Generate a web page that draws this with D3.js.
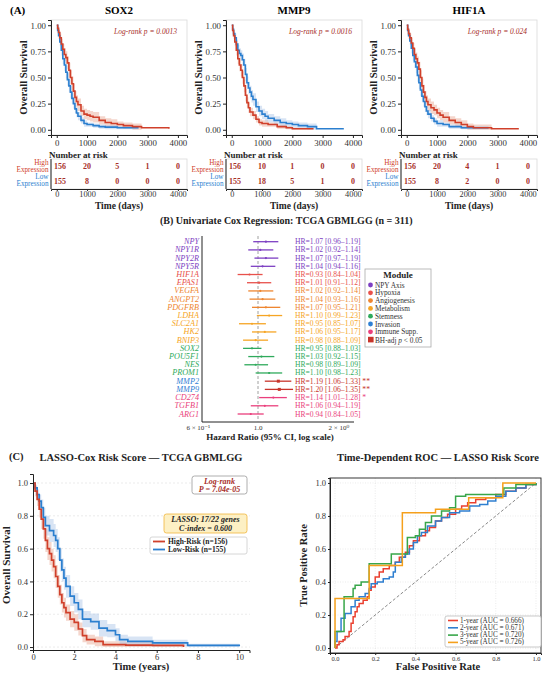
<!DOCTYPE html>
<html>
<head>
<meta charset="utf-8">
<script src="https://cdn.jsdelivr.net/npm/d3@7"></script>
<style>
  body { margin: 0; background: #fff; }
  text { font-family: "Liberation Serif", "DejaVu Serif", serif; }
</style>
</head>
<body>
<svg id="chart" width="550" height="678"></svg>
<script>
// ---------- data: panel A (Kaplan-Meier by gene, days) ----------
// each point: [time, survival, half-width of CI band]
const sox2High = [[0,1,0],[30,0.97,0.02],[60,0.93,0.03],[100,0.88,0.04],[150,0.82,0.05],[200,0.77,0.05],[250,0.72,0.06],[300,0.69,0.06],[350,0.64,0.06],[400,0.57,0.07],[450,0.5,0.07],[500,0.44,0.07],[550,0.37,0.07],[600,0.31,0.06],[650,0.27,0.06],[700,0.24,0.06],[800,0.18,0.05],[900,0.15,0.05],[1000,0.14,0.05],[1100,0.13,0.05],[1200,0.12,0.05],[1400,0.09,0.04],[1600,0.07,0.04],[1800,0.06,0.04],[2000,0.05,0.03],[2200,0.04,0.03],[2500,0.03,0.03],[2800,0.02,0],[3700,0.01,0]];
const sox2Low = [[0,1,0],[30,0.95,0.02],[60,0.9,0.03],[100,0.84,0.04],[150,0.76,0.05],[200,0.68,0.05],[250,0.62,0.06],[300,0.55,0.06],[350,0.48,0.06],[400,0.42,0.06],[450,0.36,0.06],[500,0.3,0.05],[550,0.25,0.05],[600,0.2,0.04],[650,0.16,0.04],[700,0.13,0.04],[800,0.09,0.03],[900,0.06,0.03],[1000,0.05,0.02],[1200,0.04,0.02],[1400,0.03,0.02],[1600,0.025,0.02],[2000,0.02,0.015],[2700,0.02,0]];
const mmp9High = [[0,1,0],[30,0.95,0.02],[60,0.9,0.03],[100,0.84,0.04],[150,0.76,0.05],[200,0.68,0.05],[250,0.62,0.06],[300,0.57,0.06],[350,0.5,0.06],[400,0.42,0.06],[450,0.33,0.06],[500,0.26,0.05],[550,0.21,0.05],[600,0.17,0.04],[700,0.14,0.04],[800,0.1,0.03],[900,0.07,0.03],[1000,0.06,0.03],[1200,0.05,0.02],[1500,0.03,0.02],[1800,0.02,0.015],[2000,0.01,0.01],[2700,0.01,0]];
const mmp9Low = [[0,1,0],[30,0.96,0.02],[60,0.92,0.03],[100,0.88,0.04],[150,0.82,0.04],[200,0.76,0.05],[250,0.73,0.05],[300,0.71,0.05],[350,0.67,0.06],[400,0.62,0.06],[450,0.53,0.06],[500,0.45,0.06],[550,0.4,0.06],[600,0.36,0.06],[650,0.32,0.06],[700,0.29,0.06],[800,0.22,0.05],[900,0.18,0.05],[1000,0.15,0.05],[1100,0.13,0.05],[1200,0.11,0.04],[1400,0.09,0.04],[1600,0.07,0.04],[1800,0.06,0.03],[2000,0.05,0.03],[2200,0.04,0.03],[2500,0.03,0.03],[2800,0.01,0],[3700,0.01,0]];
const hif1aHigh = [[0,1,0],[30,0.96,0.02],[60,0.92,0.03],[100,0.88,0.04],[150,0.83,0.05],[200,0.78,0.05],[250,0.72,0.06],[300,0.68,0.06],[350,0.64,0.06],[400,0.58,0.07],[450,0.5,0.07],[500,0.42,0.07],[550,0.36,0.07],[600,0.31,0.06],[650,0.27,0.06],[700,0.24,0.06],[800,0.21,0.06],[900,0.19,0.05],[1000,0.16,0.05],[1100,0.14,0.05],[1200,0.12,0.05],[1400,0.09,0.04],[1600,0.07,0.04],[1800,0.05,0.04],[2000,0.03,0.03],[2200,0.02,0.03],[2800,0.01,0],[3700,0.01,0]];
const hif1aLow = [[0,1,0],[30,0.95,0.02],[60,0.9,0.03],[100,0.85,0.04],[150,0.78,0.05],[200,0.71,0.05],[250,0.65,0.06],[300,0.6,0.06],[350,0.52,0.06],[400,0.45,0.06],[450,0.38,0.06],[500,0.32,0.05],[550,0.27,0.05],[600,0.22,0.05],[650,0.18,0.04],[700,0.15,0.04],[800,0.11,0.03],[900,0.08,0.03],[1000,0.06,0.03],[1200,0.05,0.02],[1400,0.03,0.02],[1800,0.02,0.015],[2700,0.02,0]];

const genesA = ["SOX2", "MMP9", "HIF1A"];
const logrankA = ["0.0013", "0.0016", "0.024"];
const riskTimes = [0, 1000, 2000, 3000, 4000];
const riskHigh = [[156, 20, 5, 1, 0], [156, 10, 1, 0, 0], [156, 20, 4, 1, 0]];
const riskLow = [[155, 8, 0, 0, 0], [155, 18, 5, 1, 0], [155, 8, 2, 0, 0]];
const kmYTicks = [0, 0.25, 0.5, 0.75, 1];

// ---------- data: panel B (univariate Cox) ----------
const genesB = ["NPY","NPY1R","NPY2R","NPY5R","HIF1A","EPAS1","VEGFA","ANGPT2","PDGFRB","LDHA","SLC2A1","HK2","BNIP3","SOX2","POU5F1","NES","PROM1","MMP2","MMP9","CD274","TGFB1","ARG1"];
const moduleB = ["NPY Axis","NPY Axis","NPY Axis","NPY Axis","Hypoxia","Hypoxia","Angiogenesis","Angiogenesis","Angiogenesis","Metabolism","Metabolism","Metabolism","Metabolism","Stemness","Stemness","Stemness","Stemness","Invasion","Invasion","Immune Supp.","Immune Supp.","Immune Supp."];
const hrB = [1.07,1.02,1.07,1.04,0.93,1.01,1.02,1.04,1.07,1.10,0.95,1.06,0.98,0.95,1.03,0.98,1.10,1.19,1.20,1.14,1.06,0.94];
const loB = [0.96,0.92,0.97,0.94,0.84,0.91,0.92,0.93,0.95,0.99,0.85,0.95,0.88,0.88,0.92,0.89,0.98,1.06,1.06,1.01,0.94,0.84];
const hiB = [1.19,1.14,1.19,1.16,1.04,1.12,1.14,1.16,1.21,1.23,1.07,1.17,1.09,1.03,1.15,1.09,1.23,1.33,1.35,1.28,1.19,1.05];
const starsB = ["","","","","","","","","","","","","","","","","","**","**","*","",""];
const bhSigB = ["MMP2", "MMP9"];
const modules = ["NPY Axis","Hypoxia","Angiogenesis","Metabolism","Stemness","Invasion","Immune Supp."];
const moduleColors = ["#7d3fc2","#e8514b","#ee8630","#f6a524","#2faa5c","#2f80d4","#ea3f7c"];
const hrTicks = [0.6, 1.0, 2.0];
const hrTickLabels = ["6 \u00d7 10\u207b\u00b9", "1.0", "2 \u00d7 10\u2070"];

// ---------- data: panel C (LASSO risk score, years) ----------
const riskHighC = [[0,1,0],[0.1,0.95,0.03],[0.2,0.9,0.04],[0.3,0.84,0.05],[0.4,0.78,0.06],[0.5,0.72,0.06],[0.6,0.65,0.07],[0.7,0.6,0.07],[0.8,0.57,0.07],[0.9,0.53,0.07],[1.0,0.49,0.07],[1.1,0.43,0.07],[1.2,0.37,0.07],[1.3,0.32,0.06],[1.4,0.27,0.06],[1.5,0.24,0.06],[1.6,0.21,0.05],[1.8,0.17,0.05],[2.0,0.15,0.05],[2.2,0.11,0.04],[2.4,0.07,0.04],[2.6,0.045,0.03],[3.0,0.035,0.03],[3.4,0.015,0.02],[4.5,0.012,0.02],[5.8,0.01,0.02],[7.3,0.0,0]];
const riskLowC = [[0,1,0],[0.1,0.97,0.02],[0.2,0.93,0.03],[0.3,0.89,0.04],[0.4,0.85,0.05],[0.5,0.79,0.06],[0.6,0.74,0.06],[0.8,0.71,0.07],[1.0,0.68,0.07],[1.1,0.65,0.07],[1.2,0.6,0.07],[1.3,0.53,0.07],[1.4,0.47,0.07],[1.5,0.42,0.07],[1.6,0.37,0.07],[1.8,0.31,0.06],[2.0,0.27,0.06],[2.2,0.23,0.06],[2.4,0.17,0.05],[2.8,0.155,0.05],[3.2,0.115,0.05],[3.6,0.1,0.04],[4.0,0.075,0.04],[4.2,0.045,0.03],[4.6,0.035,0.03],[5.8,0.025,0.02],[7.5,0.01,0.01],[10.0,0.005,0]];
const yearTicks = [0, 2, 4, 6, 8, 10];
const survTicksC = [0, 0.2, 0.4, 0.6, 0.8, 1.0];

const roc1 = [[0,0],[0.01,0.02],[0.02,0.04],[0.04,0.05],[0.05,0.07],[0.07,0.1],[0.08,0.15],[0.09,0.19],[0.1,0.22],[0.11,0.25],[0.12,0.27],[0.14,0.29],[0.16,0.31],[0.17,0.35],[0.18,0.37],[0.2,0.43],[0.22,0.46],[0.24,0.48],[0.27,0.5],[0.3,0.52],[0.32,0.55],[0.35,0.58],[0.37,0.62],[0.39,0.65],[0.42,0.68],[0.45,0.71],[0.47,0.73],[0.5,0.77],[0.53,0.79],[0.56,0.81],[0.6,0.84],[0.63,0.86],[0.66,0.88],[0.7,0.9],[0.75,0.91],[0.8,0.93],[0.85,0.95],[0.9,0.97],[0.95,0.99],[1,1]];
const roc2 = [[0,0],[0,0.04],[0.01,0.1],[0.03,0.1],[0.03,0.18],[0.05,0.21],[0.07,0.21],[0.08,0.25],[0.1,0.29],[0.12,0.31],[0.15,0.33],[0.17,0.36],[0.18,0.39],[0.21,0.4],[0.24,0.42],[0.27,0.43],[0.29,0.46],[0.3,0.52],[0.33,0.55],[0.35,0.57],[0.37,0.6],[0.39,0.64],[0.41,0.68],[0.43,0.7],[0.46,0.74],[0.5,0.77],[0.53,0.79],[0.57,0.82],[0.62,0.83],[0.67,0.86],[0.72,0.87],[0.76,0.89],[0.8,0.92],[0.85,0.95],[0.9,0.97],[0.95,0.99],[1,1]];
const roc3 = [[0,0],[0,0.1],[0.04,0.1],[0.045,0.31],[0.08,0.31],[0.09,0.36],[0.1,0.38],[0.13,0.4],[0.16,0.4],[0.17,0.51],[0.27,0.51],[0.28,0.57],[0.33,0.57],[0.36,0.67],[0.4,0.68],[0.42,0.72],[0.45,0.76],[0.48,0.8],[0.53,0.83],[0.57,0.85],[0.6,0.92],[0.65,0.93],[0.83,0.93],[0.84,0.97],[0.9,0.99],[1,1]];
const roc5 = [[0,0],[0,0.3],[0.17,0.5],[0.335,0.82],[0.5,0.84],[0.665,0.91],[0.835,1.0],[1,1]];
const rocLabels = ["1-year (AUC = 0.666)", "2-year (AUC = 0.671)", "3-year (AUC = 0.720)", "5-year (AUC = 0.726)"];
const rocColors = ["#ea4030", "#2f7fd0", "#38a64a", "#f5a01c"];
const rateTicks = [0, 0.2, 0.4, 0.6, 0.8, 1.0];

const RED = "#d0402b", BLUE = "#2b7fcf", DARKRED = "#a8302a";
const svg = d3.select("#chart");

const styleAxis = (g, size) => {
  g.selectAll("path").attr("stroke", "#222");
  g.selectAll("line").attr("stroke", "#222");
  g.selectAll("text").attr("font-size", size).attr("fill", "#333")
    .style("font-family", '"Liberation Serif", serif');
};

// ================= panel A =================
svg.append("text").attr("x", 10).attr("y", 14).attr("font-size", 11).attr("font-weight", "bold").text("(A)");

const kmCurvesA = [[sox2High, sox2Low], [mmp9High, mmp9Low], [hif1aHigh, hif1aLow]];
const lefts = [51, 226, 401];
const labelEdges = [48.5, 223.5, 398.5];

const step = d3.curveStepAfter;

kmCurvesA.forEach((pair, i) => {
  const left = lefts[i], w = 136;
  const x = d3.scaleLinear().domain([-190, 4300]).range([left, left + w]);
  const y = d3.scaleLinear().domain([-0.05, 1.05]).range([135, 20]);
  const g = svg.append("g");

  g.append("text").attr("x", left + w / 2).attr("y", 14).attr("text-anchor", "middle")
    .attr("font-size", 11).attr("font-weight", "bold").text(genesA[i]);

  g.append("rect").attr("x", left).attr("y", 20).attr("width", w).attr("height", 115)
    .attr("fill", "none").attr("stroke", "#d9d9d9").attr("stroke-width", 0.8);

  [[pair[0], RED, "#e6a58f"], [pair[1], BLUE, "#a9c3e6"]].forEach(([d, c, f]) => {
    g.append("path").datum(d)
      .attr("d", d3.area().curve(step).x(p => x(p[0]))
        .y0(p => y(Math.max(0, p[1] - p[2]))).y1(p => y(Math.min(1, p[1] + p[2]))))
      .attr("fill", f).attr("opacity", 0.45);
  });
  [[pair[1], BLUE], [pair[0], RED]].forEach(([d, c]) => {
    g.append("path").datum(d)
      .attr("d", d3.line().curve(step).x(p => x(p[0])).y(p => y(p[1])))
      .attr("fill", "none").attr("stroke", c).attr("stroke-width", 1.6);
  });

  g.append("g").attr("transform", `translate(${left},0)`)
    .call(d3.axisLeft(y).tickValues(kmYTicks).tickFormat(d3.format(".2f")).tickSize(3).tickPadding(2))
    .call(a => styleAxis(a, 8.8));
  g.append("g").attr("transform", "translate(0,135)")
    .call(d3.axisBottom(x).tickValues(riskTimes).tickFormat(d3.format("d")).tickSize(3).tickPadding(2))
    .call(a => styleAxis(a, 8.8));

  g.append("text").attr("x", left + w - 10).attr("y", 34).attr("text-anchor", "end")
    .attr("font-size", 7.5).attr("font-style", "italic").attr("fill", DARKRED)
    .text(`Log-rank p = ${logrankA[i]}`);

  g.append("text").attr("transform", `translate(${left - 24},${y(0.5)}) rotate(-90)`)
    .attr("text-anchor", "middle").attr("font-size", 10.5).attr("font-weight", "bold")
    .attr("fill", "#222").text("Overall Survival");

  // number at risk table
  g.append("text").attr("x", left - 2).attr("y", 158).attr("font-size", 9).attr("font-weight", "bold")
    .attr("fill", "#222").text("Number at risk");
  g.append("rect").attr("x", left).attr("y", 159).attr("width", w).attr("height", 30)
    .attr("fill", "none").attr("stroke", "#d9d9d9").attr("stroke-width", 0.8);
  g.append("g").attr("transform", "translate(0,189)")
    .call(d3.axisBottom(x).tickValues(riskTimes).tickFormat(d3.format("d")).tickSize(2).tickPadding(0))
    .call(a => styleAxis(a, 8.3));
  g.append("line").attr("x1", left).attr("x2", left).attr("y1", 159).attr("y2", 189).attr("stroke", "#222");

  [[riskHigh[i], 166], [riskLow[i], 181.5]].forEach(([row, yy]) => {
    g.selectAll(null).data(row).join("text")
      .attr("x", (d, k) => k === 0 ? left + 3 : x(riskTimes[k])).attr("y", yy)
      .attr("text-anchor", (d, k) => k === 0 ? "start" : "middle").attr("dominant-baseline", "central")
      .attr("font-size", 8).attr("font-weight", "bold").attr("fill", DARKRED).text(d => d);
  });
  const lx = labelEdges[i];
  [["High", 163, RED], ["Expression", 169.5, RED], ["Low", 177, BLUE], ["Expression", 183.5, BLUE]]
    .forEach(([t, yy, c]) => {
      g.append("text").attr("x", lx).attr("y", yy).attr("text-anchor", "end")
        .attr("dominant-baseline", "central").attr("font-size", 7.2).attr("fill", c).text(t);
    });

  g.append("text").attr("x", left + w / 2).attr("y", 208.5).attr("text-anchor", "middle")
    .attr("font-size", 9.5).attr("font-weight", "bold").attr("fill", "#222").text("Time (days)");
});

// ================= panel B =================
const gB = svg.append("g");
gB.append("text").attr("x", 160).attr("y", 224).attr("font-size", 10).attr("font-weight", "bold")
  .attr("fill", "#222").text("(B)  Univariate Cox Regression: TCGA GBMLGG (n = 311)");

const xHR = d3.scaleLog().domain([1, 2]).range([258, 339]);
const yG = d3.scalePoint().domain(genesB).range([241.7, 414]);
const colOf = (i) => moduleColors[modules.indexOf(moduleB[i])];
const sigColor = "#c8352b";

gB.append("line").attr("x1", 202).attr("x2", 202).attr("y1", 236).attr("y2", 422).attr("stroke", "#222");
gB.append("line").attr("x1", 202).attr("x2", 354).attr("y1", 422).attr("y2", 422).attr("stroke", "#222");
gB.append("line").attr("x1", xHR(1)).attr("x2", xHR(1)).attr("y1", 236).attr("y2", 422)
  .attr("stroke", "#888").attr("stroke-dasharray", "3,2").attr("stroke-width", 0.8);

gB.selectAll(null).data(hrTicks).join("text")
  .attr("x", d => xHR(d)).attr("y", 430).attr("text-anchor", "middle")
  .attr("font-size", 7).attr("fill", "#333").text((d, i) => hrTickLabels[i]);
gB.append("text").attr("x", 270).attr("y", 440).attr("text-anchor", "middle").attr("font-size", 9)
  .attr("font-weight", "bold").attr("fill", "#222").text("Hazard Ratio (95% CI, log scale)");

genesB.forEach((gene, i) => {
  const yy = yG(gene);
  const sig = bhSigB.includes(gene);
  const c = sig ? sigColor : colOf(i);
  gB.append("text").attr("x", 199).attr("y", yy).attr("text-anchor", "end")
    .attr("dominant-baseline", "central").attr("font-size", 8.2).attr("font-style", "italic")
    .attr("fill", colOf(i)).text(gene);
  gB.append("line").attr("x1", xHR(loB[i])).attr("x2", xHR(hiB[i])).attr("y1", yy).attr("y2", yy)
    .attr("stroke", c).attr("stroke-width", 1.3);
  if (sig) {
    gB.append("rect").attr("x", xHR(hrB[i]) - 1.5).attr("y", yy - 1.5).attr("width", 3).attr("height", 3)
      .attr("fill", c);
  } else {
    gB.append("circle").attr("cx", xHR(hrB[i])).attr("cy", yy).attr("r", 1.1).attr("fill", c);
  }
  gB.append("text").attr("x", 295).attr("y", yy).attr("dominant-baseline", "central")
    .attr("font-size", 7.6).attr("fill", c)
    .text(`HR=${hrB[i].toFixed(2)} [${loB[i].toFixed(2)}\u2013${hiB[i].toFixed(2)}]${starsB[i] ? " " + starsB[i] : ""}`);
});

// module legend
const lg = gB.append("g");
lg.append("rect").attr("x", 365).attr("y", 269).attr("width", 66).attr("height", 78)
  .attr("fill", "#fff").attr("stroke", "#aaa").attr("stroke-width", 0.8);
lg.append("text").attr("x", 398).attr("y", 278).attr("text-anchor", "middle").attr("font-size", 9)
  .attr("font-weight", "bold").attr("fill", "#222").text("Module");
modules.forEach((m, i) => {
  const yy = 285 + i * 7.8;
  lg.append("circle").attr("cx", 370.5).attr("cy", yy).attr("r", 2.4).attr("fill", moduleColors[i]);
  lg.append("text").attr("x", 375).attr("y", yy).attr("dominant-baseline", "central")
    .attr("font-size", 7.3).attr("fill", "#333").text(m);
});
lg.append("rect").attr("x", 368).attr("y", 285 + 7 * 7.8 - 2.8).attr("width", 5.6).attr("height", 5.6)
  .attr("fill", sigColor);
const bhText = lg.append("text").attr("x", 375).attr("y", 285 + 7 * 7.8).attr("dominant-baseline", "central")
  .attr("font-size", 7.3).attr("fill", "#333");
bhText.append("tspan").text("BH-adj ");
bhText.append("tspan").attr("font-style", "italic").text("p");
bhText.append("tspan").text(" < 0.05");

// ================= panel C left =================
const gC = svg.append("g");
gC.append("text").attr("x", 9).attr("y", 460).attr("font-size", 10.5).attr("font-weight", "bold")
  .attr("fill", "#222").text("(C)");
gC.append("text").attr("x", 141).attr("y", 461).attr("text-anchor", "middle").attr("font-size", 10.5)
  .attr("font-weight", "bold").attr("fill", "#222").text("LASSO-Cox Risk Score \u2014 TCGA GBMLGG");

const xY = d3.scaleLinear().domain([0, 10.5]).range([33, 249.5]);
const yS = d3.scaleLinear().domain([-0.018, 1.055]).range([650, 474]);

gC.selectAll(null).data(survTicksC).join("line")
  .attr("x1", 33).attr("x2", 250).attr("y1", d => yS(d)).attr("y2", d => yS(d))
  .attr("stroke", "#ddd").attr("stroke-dasharray", "2,2").attr("stroke-width", 0.6);

[[riskHighC, "#e6a58f"], [riskLowC, "#a9c3e6"]].forEach(([d, f]) => {
  gC.append("path").datum(d)
    .attr("d", d3.area().curve(step).x(p => xY(p[0]))
      .y0(p => yS(Math.max(0, p[1] - p[2]))).y1(p => yS(Math.min(1, p[1] + p[2]))))
    .attr("fill", f).attr("opacity", 0.45);
});
[[riskLowC, BLUE], [riskHighC, RED]].forEach(([d, c]) => {
  gC.append("path").datum(d)
    .attr("d", d3.line().curve(step).x(p => xY(p[0])).y(p => yS(p[1])))
    .attr("fill", "none").attr("stroke", c).attr("stroke-width", 1.7);
});

gC.append("g").attr("transform", "translate(33,0)")
  .call(d3.axisLeft(yS).tickValues(survTicksC).tickFormat(d3.format(".1f")).tickSize(3).tickPadding(2))
  .call(a => styleAxis(a, 8.5));
gC.append("g").attr("transform", "translate(0,650)")
  .call(d3.axisBottom(xY).tickValues(yearTicks).tickFormat(d3.format("d")).tickSize(3).tickPadding(1))
  .call(a => styleAxis(a, 8.5));
gC.append("text").attr("x", 141).attr("y", 670).attr("text-anchor", "middle").attr("font-size", 10.5)
  .attr("font-weight", "bold").attr("fill", "#222").text("Time (years)");
gC.append("text").attr("transform", `translate(10,${yS(0.5)}) rotate(-90)`).attr("text-anchor", "middle")
  .attr("font-size", 11).attr("font-weight", "bold").attr("fill", "#222").text("Overall Survival");

// annotation boxes
gC.append("rect").attr("x", 192).attr("y", 476).attr("width", 55).attr("height", 18).attr("rx", 2.5)
  .attr("fill", "#fff").attr("stroke", "#999").attr("stroke-width", 0.8);
[["Log-rank", 481], ["P = 7.04e-05", 489.5]].forEach(([t, yy]) => {
  gC.append("text").attr("x", 219.5).attr("y", yy).attr("text-anchor", "middle").attr("dominant-baseline", "central")
    .attr("font-size", 8).attr("font-style", "italic").attr("font-weight", "bold").attr("fill", DARKRED).text(t);
});
gC.append("rect").attr("x", 164).attr("y", 514).attr("width", 83).attr("height", 19).attr("rx", 2.5)
  .attr("fill", "#fdf0c4").attr("stroke", "#f0b53c").attr("stroke-width", 0.8);
[["LASSO: 17/22 genes", 519.5], ["C-index = 0.600", 528]].forEach(([t, yy]) => {
  gC.append("text").attr("x", 205.5).attr("y", yy).attr("text-anchor", "middle").attr("dominant-baseline", "central")
    .attr("font-size", 8).attr("font-style", "italic").attr("font-weight", "bold").attr("fill", "#222").text(t);
});
gC.append("rect").attr("x", 150).attr("y", 537).attr("width", 97).attr("height", 17).attr("rx", 2)
  .attr("fill", "#fff").attr("stroke", "#ccc").attr("stroke-width", 0.8);
[["High-Risk (n=156)", RED, 541.5], ["Low-Risk (n=155)", BLUE, 549.5]].forEach(([t, c, yy]) => {
  gC.append("line").attr("x1", 153).attr("x2", 165).attr("y1", yy).attr("y2", yy)
    .attr("stroke", c).attr("stroke-width", 1.8);
  gC.append("text").attr("x", 168).attr("y", yy).attr("dominant-baseline", "central")
    .attr("font-size", 7.5).attr("font-weight", "bold").attr("fill", "#222").text(t);
});

// ================= panel C right (ROC) =================
const gR = svg.append("g");
gR.append("text").attr("x", 438).attr("y", 461).attr("text-anchor", "middle").attr("font-size", 10.5)
  .attr("font-weight", "bold").attr("fill", "#222").text("Time-Dependent ROC \u2014 LASSO Risk Score");

const xF = d3.scaleLinear().domain([-0.025, 1.025]).range([330, 541]);
const yT = d3.scaleLinear().domain([-0.03, 1.03]).range([653, 478]);

gR.selectAll(null).data(rateTicks).join("line")
  .attr("x1", d => xF(d)).attr("x2", d => xF(d)).attr("y1", 478).attr("y2", 653)
  .attr("stroke", "#ddd").attr("stroke-dasharray", "1,1.5").attr("stroke-width", 0.6);
gR.selectAll(null).data(rateTicks).join("line")
  .attr("x1", 330).attr("x2", 541).attr("y1", d => yT(d)).attr("y2", d => yT(d))
  .attr("stroke", "#ddd").attr("stroke-dasharray", "1,1.5").attr("stroke-width", 0.6);

gR.append("line").attr("x1", xF(0)).attr("y1", yT(0)).attr("x2", xF(1)).attr("y2", yT(1))
  .attr("stroke", "#555").attr("stroke-dasharray", "3,2").attr("stroke-width", 0.7);

[roc1, roc2, roc3, roc5].forEach((d, i) => {
  gR.append("path").datum(d)
    .attr("d", d3.line().curve(step).x(p => xF(p[0])).y(p => yT(p[1])))
    .attr("fill", "none").attr("stroke", rocColors[i]).attr("stroke-width", 1.5);
});

gR.append("g").attr("transform", "translate(330,0)")
  .call(d3.axisLeft(yT).tickValues(rateTicks).tickFormat(d3.format(".1f")).tickSize(2).tickPadding(2))
  .call(a => styleAxis(a, 8.5));
gR.append("g").attr("transform", "translate(0,653)")
  .call(d3.axisBottom(xF).tickValues(rateTicks).tickFormat(d3.format(".1f")).tickSize(2).tickPadding(1))
  .call(a => styleAxis(a, 6.5));
gR.append("rect").attr("x", 330).attr("y", 478).attr("width", 211).attr("height", 175)
  .attr("fill", "none").attr("stroke", "#222").attr("stroke-width", 0.9);

gR.append("text").attr("x", 438).attr("y", 670).attr("text-anchor", "middle").attr("font-size", 10.5)
  .attr("font-weight", "bold").attr("fill", "#222").text("False Positive Rate");
gR.append("text").attr("transform", `translate(307,${yT(0.5)}) rotate(-90)`).attr("text-anchor", "middle")
  .attr("font-size", 10.5).attr("font-weight", "bold").attr("fill", "#222").text("True Positive Rate");

gR.append("rect").attr("x", 445).attr("y", 616).attr("width", 96).attr("height", 31).attr("rx", 2)
  .attr("fill", "#fff").attr("stroke", "#bbb").attr("stroke-width", 0.8);
rocLabels.forEach((t, i) => {
  const yy = 620.5 + i * 7.3;
  gR.append("line").attr("x1", 448).attr("x2", 458).attr("y1", yy).attr("y2", yy)
    .attr("stroke", rocColors[i]).attr("stroke-width", 1.6);
  gR.append("text").attr("x", 460).attr("y", yy).attr("dominant-baseline", "central")
    .attr("font-size", 7.2).attr("fill", "#333").text(t);
});
</script>
</body>
</html>
